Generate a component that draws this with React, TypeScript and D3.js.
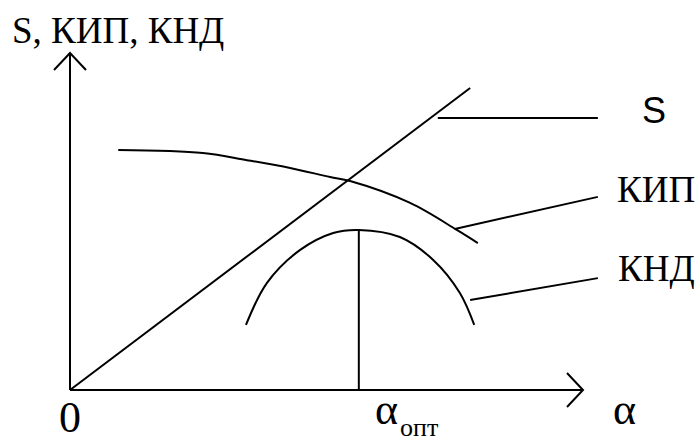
import React from "react";
import * as d3 from "d3";

// schematic values (alpha and value in 0..100 units)
const sLine = [
  { a: 0, v: 0 },
  { a: 78, v: 89.6 },
];
const kipCurve = [
  { a: 9.4, v: 71.2 },
  { a: 25.9, v: 70.3 },
  { a: 34.5, v: 68.2 },
  { a: 42.9, v: 65.9 },
  { a: 50.7, v: 63.2 },
  { a: 54.6, v: 62.0 },
  { a: 66.3, v: 55.5 },
  { a: 75.4, v: 47.5 },
  { a: 79.5, v: 43.6 },
];
const kndCurve = [
  { a: 34.3, v: 19.3 },
  { a: 38.4, v: 31.8 },
  { a: 44.8, v: 41.5 },
  { a: 51.3, v: 46.6 },
  { a: 56.3, v: 47.5 },
  { a: 64.3, v: 45.4 },
  { a: 70.8, v: 38.6 },
  { a: 76.0, v: 28.8 },
  { a: 78.8, v: 19.3 },
];
const alphaOpt = 56.3;
// leader lines: [from, to] for each label
const leaders = [
  { label: "S", from: { a: 71.7, v: 80.7 }, to: { a: 102.9, v: 80.7 } },
  { label: "КИП", from: { a: 75.0, v: 47.8 }, to: { a: 102.9, v: 57.3 } },
  { label: "КНД", from: { a: 78.0, v: 26.7 }, to: { a: 102.9, v: 33.2 } },
];

const W = 697;
const H = 441;

export default function App() {
  const x = d3.scaleLinear().domain([0, 100]).range([70, 583]);
  const y = d3.scaleLinear().domain([0, 100]).range([390, 53]);

  const line = d3
    .line<{ a: number; v: number }>()
    .x((d) => x(d.a))
    .y((d) => y(d.v));
  const smooth = d3
    .line<{ a: number; v: number }>()
    .x((d) => x(d.a))
    .y((d) => y(d.v))
    .curve(d3.curveCatmullRom);

  const x0 = x(0);
  const y0 = y(0);
  const xEnd = x(100);
  const yEnd = y(100);
  const peak = kndCurve.reduce((m, d) => (d.v > m.v ? d : m), kndCurve[0]);

  const serif = { fontFamily: '"Liberation Serif", "Times New Roman", serif' };
  const sans = { fontFamily: '"Liberation Sans", Arial, sans-serif' };

  return (
    <svg
      width={W}
      height={H}
      style={{ position: "absolute", left: 0, top: 0, background: "#fff" }}
    >
      <g fill="none" stroke="#000" strokeWidth={2}>
        {/* axes */}
        <line x1={x0} y1={y0} x2={x0} y2={yEnd} />
        <polyline points={`${x0 - 16},${yEnd + 17} ${x0},${yEnd} ${x0 + 16},${yEnd + 17}`} />
        <line x1={x0} y1={y0} x2={xEnd} y2={y0} />
        <polyline points={`${xEnd - 16},${y0 - 17} ${xEnd},${y0} ${xEnd - 16},${y0 + 17}`} />

        {/* curves */}
        <path d={line(sLine) || ""} />
        <path d={smooth(kipCurve) || ""} />
        <path d={smooth(kndCurve) || ""} />
        <line x1={x(alphaOpt)} y1={y0} x2={x(alphaOpt)} y2={y(peak.v)} />

        {/* leaders */}
        {leaders.map((l) => (
          <line
            key={l.label}
            x1={x(l.from.a)}
            y1={y(l.from.v)}
            x2={x(l.to.a)}
            y2={y(l.to.v)}
          />
        ))}
      </g>

      <text x={12} y={43} style={serif} fontSize={37}>
        S, КИП, КНД
      </text>
      <text x={642} y={123} style={sans} fontSize={36}>
        S
      </text>
      <text x={617} y={202} style={serif} fontSize={37}>
        КИП
      </text>
      <text x={618} y={281} style={serif} fontSize={37}>
        КНД
      </text>

      <text x={x0} y={432} style={serif} fontSize={44} textAnchor="middle">
        0
      </text>
      <text x={375} y={424} style={serif} fontSize={44}>
        α
      </text>
      <text x={400} y={436} style={serif} fontSize={26}>
        опт
      </text>
      <text x={613} y={424} style={serif} fontSize={44}>
        α
      </text>
    </svg>
  );
}
